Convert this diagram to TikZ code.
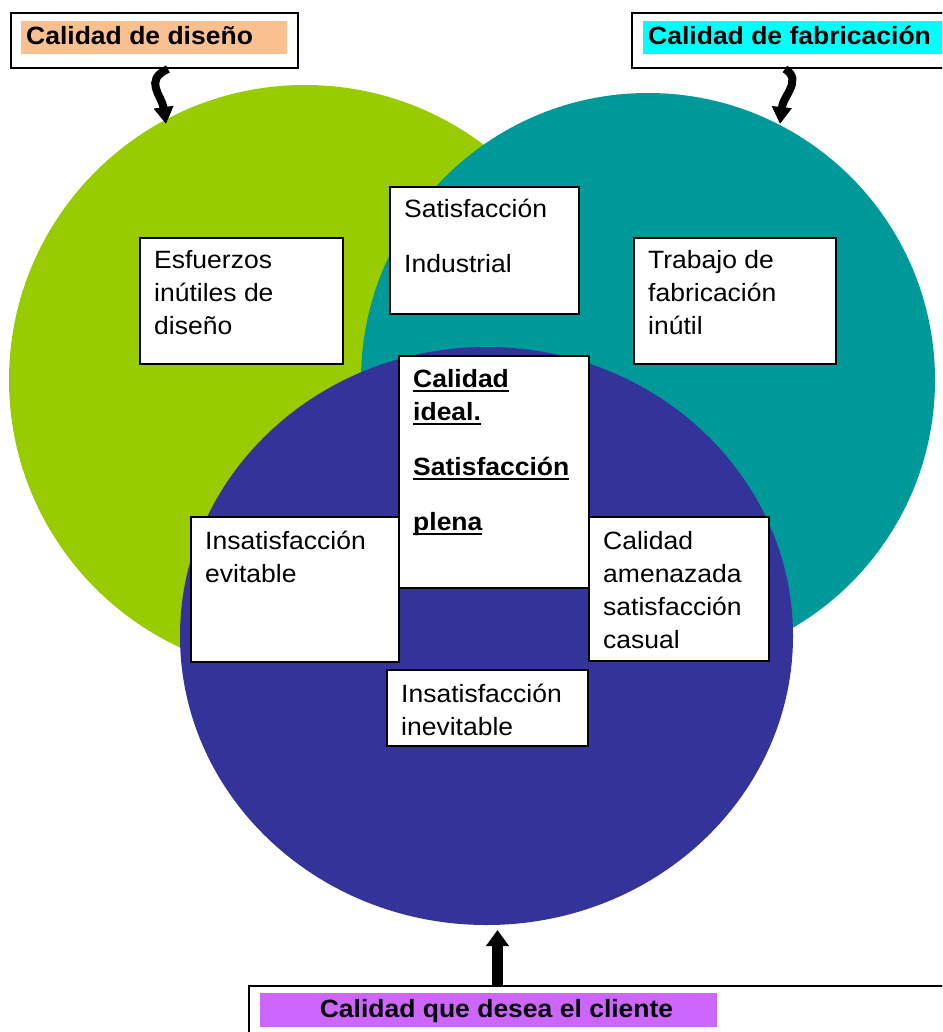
\documentclass[tikz,border=0pt]{standalone}
\usepackage{fontspec}
\setmainfont{Liberation Sans}[FakeStretch=1.06]
\usetikzlibrary{arrows.meta,calc}
\definecolor{cgreen}{HTML}{99CC00}
\definecolor{cteal}{HTML}{009999}
\definecolor{cblue}{HTML}{333399}
\definecolor{cpeach}{HTML}{FAC090}
\definecolor{ccyan}{HTML}{00FFFF}
\definecolor{cmag}{HTML}{CC66FF}
\newlength\ulwd
\newcommand\myul[1]{\settowidth\ulwd{#1}\makebox[0pt][l]{\rule[-5pt]{\ulwd}{2pt}}#1}
\newcommand\fst{\rule{0pt}{24pt}}
\begin{document}
\begin{tikzpicture}[x=1pt,y=-1pt,
  tbox/.style={draw=black, line width=1.6pt, fill=white, inner sep=0pt, anchor=north west},
  txt/.style={inner sep=0pt, anchor=north west, align=left, font=\fontsize{25}{33}\selectfont},
  btxt/.style={txt, font=\fontsize{25}{33}\selectfont\bfseries},
  ttl/.style={inner sep=0pt, anchor=base west, font=\fontsize{25}{30}\selectfont\bfseries},
  lbox/.style={draw=black, line width=2pt, fill=white, inner sep=0pt, anchor=north west},
  band/.style={inner sep=0pt, anchor=north west},
  cur/.style={line width=8pt, -{Triangle[width=19pt,length=17pt]}}]
\useasboundingbox (0,0) rectangle (942,1032);
\clip (0,0) rectangle (942,1032);
% circles
\fill[cgreen] (305,380) ellipse [x radius=296pt, y radius=295pt];
\fill[cteal] (648,380) ellipse [x radius=287pt, y radius=287pt];
\fill[cblue] (486.5,636) ellipse [x radius=306.5pt, y radius=289pt];
% text boxes
\node[tbox, minimum width=203pt, minimum height=126pt] (esf) at (139,237) {};
\node[txt] (esft) at (154,244) {\fst Esfuerzos\\inútiles de\\diseño};
\node[tbox, minimum width=189pt, minimum height=127pt] (sat) at (389,186) {};
\node[txt] (satt) at (404,193) {\fst Satisfacción\\[22pt]Industrial};
\node[tbox, minimum width=202pt, minimum height=126pt] (tra) at (633,237) {};
\node[txt] (trat) at (648,244) {\fst Trabajo de\\fabricación\\inútil};
\node[tbox, minimum width=208pt, minimum height=145pt] (eva) at (190,516) {};
\node[txt] (evat) at (205,525) {\fst Insatisfacción\\evitable};
\node[tbox, minimum width=180pt, minimum height=144pt] (ame) at (588,516) {};
\node[txt] (amet) at (603,525) {\fst Calidad\\amenazada\\satisfacción\\casual};
\node[tbox, minimum width=190pt, minimum height=232pt] (ide) at (398,355) {};
\node[btxt] (idet) at (413,363) {\fst\myul{Calidad}\\\myul{ideal.}\\[22pt]\myul{Satisfacción}\\[22pt]\myul{plena}};
\node[tbox, minimum width=201pt, minimum height=76pt] (ine) at (386,669) {};
\node[txt] (inet) at (401,678) {\fst Insatisfacción\\inevitable};
% title boxes
\node[lbox, minimum width=287pt, minimum height=55pt] (dis) at (10,12) {};
\node[band, fill=cpeach, minimum width=266pt, minimum height=33pt] (disb) at (21,21) {};
\node[ttl] (dist) at (26,44.5) {Calidad de diseño};
\node[lbox, minimum width=330pt, minimum height=55pt] (fab) at (631,12) {};
\node[band, fill=ccyan, minimum width=310pt, minimum height=33pt] (fabb) at (643,21) {};
\node[ttl] (fabt) at (648,44.5) {Calidad de fabricación};
\node[lbox, minimum width=720pt, minimum height=80pt] (cli) at (248,985) {};
\node[band, fill=cmag, minimum width=457pt, minimum height=34pt] (clib) at (260,993) {};
\node[ttl, anchor=base] (clit) at (496.5,1017) {Calidad que desea el cliente};
% arrows
\coordinate (tipL) at (166,124);
\coordinate (tipR) at (780,124);
\coordinate (tipB) at (497.5,930);
\draw[cur] ([xshift=158pt]dis.south west) .. controls (143,80) and (162,96) .. (tipL);
\draw[cur] ([xshift=154pt]fab.south west) .. controls (803,80) and (783,96) .. (tipR);
\draw[line width=11pt, -{Triangle[width=22pt,length=16pt]}] ([xshift=249.5pt]cli.north west) -- (tipB);
\end{tikzpicture}
\end{document}
